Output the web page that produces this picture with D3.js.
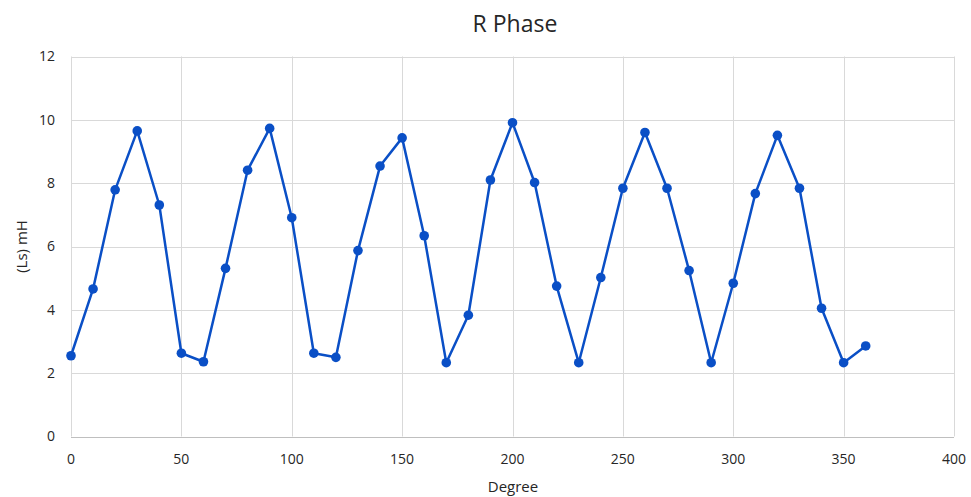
<!DOCTYPE html>
<html>
<head>
<meta charset="utf-8">
<script src="https://cdn.jsdelivr.net/npm/d3@7"></script>
<style>
  body { margin: 0; background: #fff; }
  svg text { font-family: "Open Sans", "Liberation Sans", sans-serif; fill: #262626; }
</style>
</head>
<body>
<div id="chart"></div>
<script>
// chart data
var degrees = [0, 10, 20, 30, 40, 50, 60, 70, 80, 90, 100, 110, 120, 130, 140, 150, 160, 170, 180,
               190, 200, 210, 220, 230, 240, 250, 260, 270, 280, 290, 300, 310, 320, 330, 340, 350, 360];
var inductance = [2.55, 4.66, 7.79, 9.65, 7.31, 2.63, 2.36, 5.31, 8.41, 9.73, 6.91, 2.63, 2.50,
                  5.87, 8.54, 9.43, 6.34, 2.33, 3.83, 8.10, 9.91, 8.02, 4.75, 2.33, 5.02, 7.84,
                  9.60, 7.84, 5.24, 2.33, 4.84, 7.67, 9.51, 7.84, 4.05, 2.33, 2.86];
var xTicks = [0, 50, 100, 150, 200, 250, 300, 350, 400];
var yTicks = [0, 2, 4, 6, 8, 10, 12];

var W = 971, H = 497;
var margin = {left: 71, right: 17, top: 56.5, bottom: 60.5};
var lineColor = '#0a4fc6';

var svg = d3.select('#chart').append('svg')
  .attr('width', W).attr('height', H);

var x = d3.scaleLinear().domain([0, 400]).range([margin.left, W - margin.right]);
var y = d3.scaleLinear().domain([0, 12]).range([H - margin.bottom, margin.top]);

// grid
svg.append('g').selectAll('line.v').data(xTicks).enter().append('line')
  .attr('x1', function(d){ return Math.round(x(d)) + 0.5; })
  .attr('x2', function(d){ return Math.round(x(d)) + 0.5; })
  .attr('y1', y(0)).attr('y2', y(12))
  .attr('stroke', '#d9d9d9').attr('stroke-width', 1);

svg.append('g').selectAll('line.h').data(yTicks).enter().append('line')
  .attr('y1', function(d){ return Math.round(y(d)) + 0.5; })
  .attr('y2', function(d){ return Math.round(y(d)) + 0.5; })
  .attr('x1', x(0)).attr('x2', x(400))
  .attr('stroke', function(d){ return d === 0 ? '#bfbfbf' : '#d9d9d9'; })
  .attr('stroke-width', 1);

// tick labels
svg.append('g').selectAll('text').data(yTicks).enter().append('text')
  .attr('x', 55).attr('y', function(d){ return y(d); })
  .attr('dy', '0.35em').attr('text-anchor', 'end')
  .style('font-size', '14px')
  .text(function(d){ return d; });

svg.append('g').selectAll('text').data(xTicks).enter().append('text')
  .attr('x', function(d){ return x(d); }).attr('y', y(0) + 27)
  .attr('text-anchor', 'middle')
  .style('font-size', '14px')
  .text(function(d){ return d; });

// titles
svg.append('text').attr('x', 515).attr('y', 32)
  .attr('text-anchor', 'middle').style('font-size', '23px')
  .text('R Phase');

svg.append('text').attr('x', 513).attr('y', 492)
  .attr('text-anchor', 'middle').style('font-size', '15px')
  .text('Degree');

svg.append('text')
  .attr('transform', 'translate(27,' + ((y(0) + y(12)) / 2) + ') rotate(-90)')
  .attr('text-anchor', 'middle').style('font-size', '15px')
  .text('(Ls) mH');

// series
var line = d3.line()
  .x(function(d, i){ return x(degrees[i]); })
  .y(function(d){ return y(d); });

svg.append('path').datum(inductance)
  .attr('d', line)
  .attr('fill', 'none')
  .attr('stroke', lineColor)
  .attr('stroke-width', 2.5)
  .attr('stroke-linejoin', 'round');

svg.append('g').selectAll('circle').data(inductance).enter().append('circle')
  .attr('cx', function(d, i){ return x(degrees[i]); })
  .attr('cy', function(d){ return y(d); })
  .attr('r', 4.8)
  .attr('fill', lineColor);
</script>
</body>
</html>
